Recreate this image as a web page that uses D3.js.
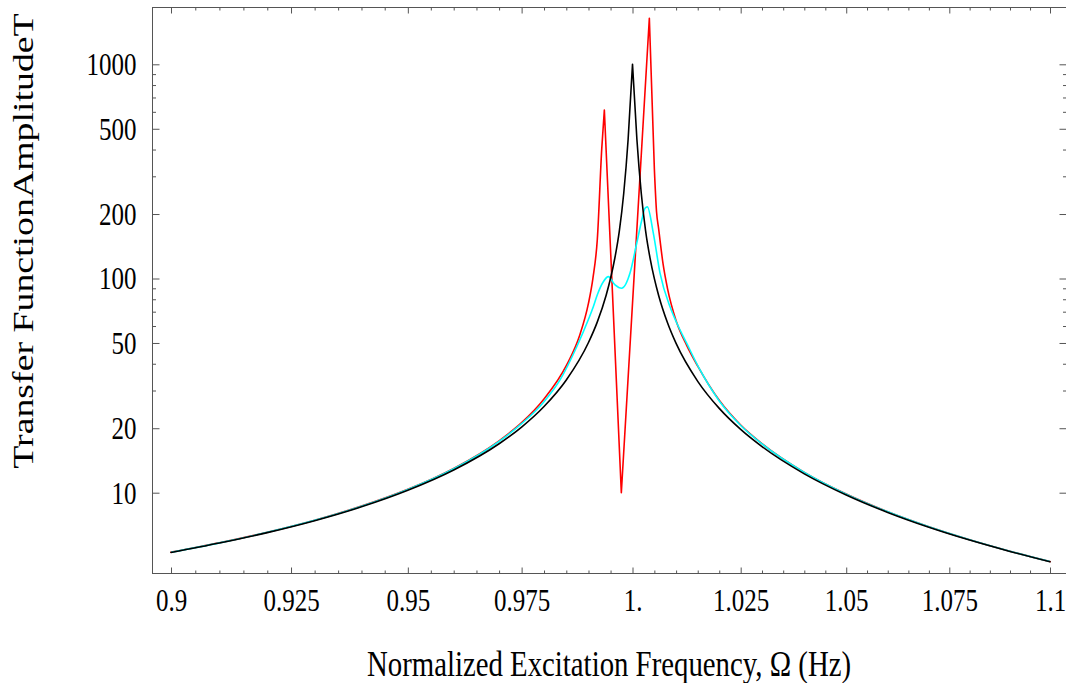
<!DOCTYPE html>
<html>
<head>
<meta charset="utf-8">
<script src="https://cdn.jsdelivr.net/npm/d3@7"></script>
<style>
	body { margin: 0; background: #fff; }
	svg text { font-family: 'Liberation Serif', 'Times New Roman', serif; fill: #000; }
</style>
</head>
<body>
<svg id="chart" width="1066" height="683"></svg>
<script>
// values
const blackOmega = [0.9, 0.91, 0.92, 0.93, 0.94, 0.95, 0.96, 0.97, 0.975, 0.98, 0.985, 0.99, 0.992, 0.994, 0.995, 0.996, 0.997, 0.998, 0.999, 1.0, 1.001, 1.002, 1.003, 1.004, 1.005, 1.006, 1.008, 1.01, 1.015, 1.02, 1.025, 1.03, 1.04, 1.05, 1.06, 1.07, 1.08, 1.09, 1.1];
const blackT = [5.26, 5.82, 6.51, 7.40, 8.59, 10.26, 12.76, 16.92, 20.25, 25.25, 33.59, 50.25, 62.75, 83.6, 100.3, 125.3, 166.9, 250, 447, 1000, 447, 250, 166.4, 124.8, 99.8, 83.1, 62.3, 49.75, 33.1, 24.75, 19.75, 16.42, 12.25, 9.76, 8.09, 6.90, 6.01, 5.32, 4.76];

const redOmega = [0.9, 0.91, 0.92, 0.93, 0.94, 0.95, 0.96, 0.97, 0.975, 0.98, 0.985, 0.988, 0.99, 0.991, 0.992, 0.993, 0.99359, 0.99745, 1.00385, 1.005, 1.0055, 1.006, 1.007, 1.008, 1.01, 1.0125, 1.015, 1.02, 1.025, 1.03, 1.04, 1.05, 1.06, 1.07, 1.08, 1.09, 1.1];
const redT = [5.28, 5.84, 6.54, 7.44, 8.66, 10.37, 12.98, 17.47, 21.23, 27.4, 39.2, 54.2, 76.7, 100.1, 152.5, 403, 612, 10, 1640, 325, 205, 169.6, 116.9, 90.2, 63.5, 48.5, 39.0, 27.0, 20.7, 16.95, 12.45, 9.86, 8.15, 6.94, 6.03, 5.33, 4.77];

const cyanOmega = [0.9, 0.91, 0.92, 0.93, 0.94, 0.95, 0.96, 0.97, 0.975, 0.98, 0.98359, 0.98735, 0.99, 0.99109, 0.992, 0.99336, 0.9945, 0.99602, 0.99754, 0.99943, 1.00096, 1.00211, 1.00286, 1.00339, 1.00476, 1.0063, 1.0086, 1.01, 1.01246, 1.01554, 1.02, 1.025, 1.03, 1.04, 1.05, 1.06, 1.07, 1.08, 1.09, 1.1];
const cyanT = [5.27, 5.83, 6.53, 7.43, 8.64, 10.35, 12.93, 17.35, 21.0, 26.6, 33.6, 48, 64.5, 73.8, 84, 96.6, 102, 93.3, 90, 106, 146, 187, 213, 216, 163, 106, 73.8, 63, 49.8, 37.4, 26.8, 20.6, 16.9, 12.45, 9.85, 8.14, 6.93, 6.03, 5.33, 4.77];

const xMajor = [0.9, 0.925, 0.95, 0.975, 1.0, 1.025, 1.05, 1.075, 1.1];
const xLabels = ['0.9', '0.925', '0.95', '0.975', '1.', '1.025', '1.05', '1.075', '1.1'];
const xMinor = [0.905, 0.91, 0.915, 0.92, 0.93, 0.935, 0.94, 0.945, 0.955, 0.96, 0.965, 0.97, 0.98, 0.985, 0.99, 0.995, 1.005, 1.01, 1.015, 1.02, 1.03, 1.035, 1.04, 1.045, 1.055, 1.06, 1.065, 1.07, 1.08, 1.085, 1.09, 1.095];
const yMajor = [10, 20, 50, 100, 200, 500, 1000];
const yMinor = [30, 40, 60, 70, 80, 90, 300, 400, 600, 700, 800, 900];

const svg = d3.select('#chart');
const frame = { left: 152.5, right: 1066.5, top: 7.5, bottom: 573.5 };
const frameColor = '#555';

const x = d3.scaleLog().domain([0.9, 1.1]).range([171, 1050]);
const y = d3.scaleLog().domain([10, 1000]).range([492.7, 64.3]);

svg.append('defs').append('clipPath').attr('id', 'clip')
	.append('rect')
	.attr('x', frame.left).attr('y', frame.top)
	.attr('width', frame.right - frame.left).attr('height', frame.bottom - frame.top);

const plot = svg.append('g').attr('clip-path', 'url(#clip)');

const smooth = d3.line().x((d) => x(d[0])).y((d) => y(d[1])).curve(d3.curveMonotoneX);

function pairs(xs, ys) {
	return xs.map((v, i) => [v, ys[i]]);
}

// cut a series at its peaks and dips so each piece is monotone (keeps tips sharp)
function pieces(pts) {
	const out = [];
	let start = 0;
	for (let i = 1; i < pts.length - 1; i++) {
		if ((pts[i][1] - pts[i - 1][1]) * (pts[i + 1][1] - pts[i][1]) < 0) {
			out.push(pts.slice(start, i + 1));
			start = i;
		}
	}
	out.push(pts.slice(start));
	return out;
}

function drawSpiky(pts, color) {
	plot.append('path')
		.attr('d', pieces(pts).map((p) => smooth(p)).join(''))
		.attr('fill', 'none')
		.attr('stroke', color)
		.attr('stroke-width', 1.6)
		.attr('stroke-linecap', 'round');
}

drawSpiky(pairs(redOmega, redT), '#ff0000');
plot.append('path').datum(pairs(cyanOmega, cyanT))
	.attr('d', smooth).attr('fill', 'none').attr('stroke', '#00ffff').attr('stroke-width', 1.6);
drawSpiky(pairs(blackOmega, blackT), '#000');

// frame
svg.append('rect')
	.attr('x', frame.left).attr('y', frame.top)
	.attr('width', frame.right - frame.left).attr('height', frame.bottom - frame.top)
	.attr('fill', 'none').attr('stroke', frameColor).attr('stroke-width', 1);

function clean(g) {
	g.select('.domain').remove();
	g.selectAll('line').attr('stroke', frameColor);
}

function addAxis(axis, tx, ty, keepText) {
	const g = svg.append('g').attr('transform', 'translate(' + tx + ',' + ty + ')').call(axis);
	clean(g);
	if (!keepText) g.selectAll('text').remove();
	return g;
}

// x axes (bottom labelled, top plain), ticks point inward
const xLab = addAxis(d3.axisBottom(x).tickValues(xMajor).tickSize(-6).tickSizeOuter(0)
	.tickFormat((d) => xLabels[xMajor.indexOf(d)]), 0, frame.bottom, true);
xLab.selectAll('text')
	.attr('y', 0).attr('dy', 0)
	.attr('transform', 'translate(0,37) scale(1,1.25)')
	.style('font-size', '25px');
addAxis(d3.axisBottom(x).tickValues(xMinor).tickSize(-3).tickSizeOuter(0), 0, frame.bottom, false);
addAxis(d3.axisTop(x).tickValues(xMajor).tickSize(-6).tickSizeOuter(0), 0, frame.top, false);
addAxis(d3.axisTop(x).tickValues(xMinor).tickSize(-3).tickSizeOuter(0), 0, frame.top, false);

// y axes
const yLab = addAxis(d3.axisLeft(y).tickValues(yMajor).tickSize(-7).tickSizeOuter(0)
	.tickPadding(16).tickFormat(d3.format('d')), frame.left, 0, true);
yLab.selectAll('text')
	.attr('transform', 'scale(1,1.25)')
	.attr('dy', '0.33em')
	.style('font-size', '25px');
addAxis(d3.axisLeft(y).tickValues(yMinor).tickSize(-3.5).tickSizeOuter(0), frame.left, 0, false);
addAxis(d3.axisRight(y).tickValues(yMajor).tickSize(-7).tickSizeOuter(0), frame.right, 0, false);
addAxis(d3.axisRight(y).tickValues(yMinor).tickSize(-3.5).tickSizeOuter(0), frame.right, 0, false);

// axis titles
svg.append('text')
	.attr('transform', 'translate(609,676) scale(1,1.24)')
	.attr('text-anchor', 'middle')
	.style('font-size', '28.8px')
	.text('Normalized Excitation Frequency, Ω (Hz)');

svg.append('text')
	.attr('transform', 'translate(33,241) rotate(-90) scale(1.24,1)')
	.attr('text-anchor', 'middle')
	.style('font-size', '30.5px')
	.text('Transfer FunctionAmplitudeT');
</script>
</body>
</html>
